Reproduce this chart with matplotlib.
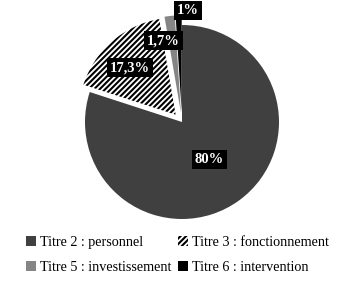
import matplotlib
matplotlib.use("Agg")
from matplotlib import pyplot as plt
from matplotlib.patches import Patch

# data
labels = ["Titre 2 : personnel", "Titre 3 : fonctionnement",
          "Titre 5 : investissement", "Titre 6 : intervention"]
values = [80, 17.3, 1.7, 1]
pct_text = ["80%", "17,3%", "1,7%", "1%"]

colors = ["#404040", "white", "#858585", "#000000"]
hatches = [None, "//////", None, None]
explode = [0, 0.1, 0.1, 0.1]
# label positions (in pie radius units)
label_pos = [(0.28, -0.39), (-0.54, 0.56), (-0.19, 0.84), (0.06, 1.15)]

plt.rcParams['font.family'] = ['Liberation Serif', 'DejaVu Serif']
plt.rcParams['hatch.linewidth'] = 1.5

fig = plt.figure(figsize=(3.55, 2.88), dpi=100)
W, H = 355, 288
r = 97
cx, cy = 182, 288 - 122
ax = fig.add_axes([(cx - 1.5*r)/W, (cy - 1.05*r)/H, 3.0*r/W, 2.3*r/H])

wedges, _ = ax.pie(values, colors=colors, explode=explode, startangle=90,
                   counterclock=False, radius=1,
                   wedgeprops=dict(linewidth=0))
for w, h in zip(wedges, hatches):
  if h:
    w.set_hatch(h)
    w.set_edgecolor("black")
    w.set_linewidth(0)
ax.set_xlim(-1.5, 1.5)
ax.set_ylim(-1.05, 1.25)
ax.axis("off")

for txt, (x, y) in zip(pct_text, label_pos):
  ax.text(x, y, txt, ha="center", va="center", color="white",
          fontsize=10.5, fontweight="bold",
          bbox=dict(boxstyle="square,pad=0.2", facecolor="black", edgecolor="none"))

handles = [Patch(facecolor=c, edgecolor="black" if h else c, hatch=h, linewidth=0)
           for c, h in zip(colors, hatches)]
order = [0, 2, 1, 3]
fig.legend([handles[i] for i in order], [labels[i] for i in order],
           loc="center", bbox_to_anchor=(0.5, 0.114), ncol=2, frameon=False,
           fontsize=10.2, handlelength=0.7, handleheight=0.7, handletextpad=0.3,
           columnspacing=0.5, labelspacing=0.85)

fig.savefig("out.png", dpi=100)
